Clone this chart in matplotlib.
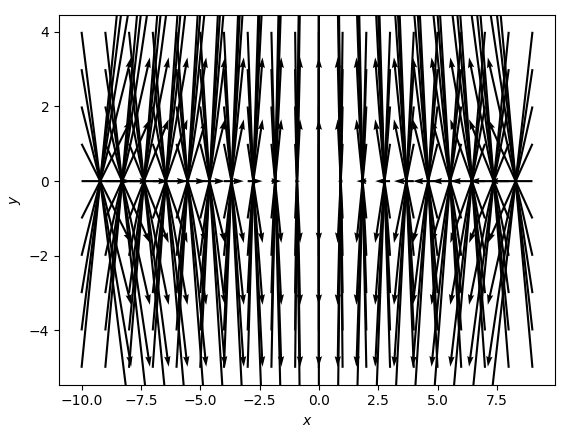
import numpy as np
import matplotlib
matplotlib.use('Agg')
import matplotlib.pyplot as plt

# arrow tail positions
x_tails = [-10, -9, -8, -7, -6, -5, -4, -3, -2, -1, 0, 1, 2, 3, 4, 5, 6, 7, 8, 9]
y_tails = [-5, -4, -3, -2, -1, 0, 1, 2, 3, 4]

# horizontal component for each x column, vertical component for each y row
u_by_x = [0.50, 0.45, 0.40, 0.35, 0.30, 0.25, 0.20, 0.15, 0.10, 0.05,
          0.00, -0.05, -0.10, -0.15, -0.20, -0.25, -0.30, -0.35, -0.40, -0.45]
v_by_y = [5, 4, 3, 2, 1, 0, -1, -2, -3, -4]

X, Y = np.meshgrid(x_tails, y_tails)
U, V = np.meshgrid(u_by_x, v_by_y)

fig = plt.figure(figsize=(5.81, 4.29), dpi=100)
ax = fig.add_axes([59 / 581, 44.4 / 429, 496 / 581, 369.6 / 429])
ax.quiver(X, Y, U, V, scale=5)
ax.set_xlabel('$x$')
ax.set_ylabel('$y$')
fig.savefig('out.png', dpi=100)
